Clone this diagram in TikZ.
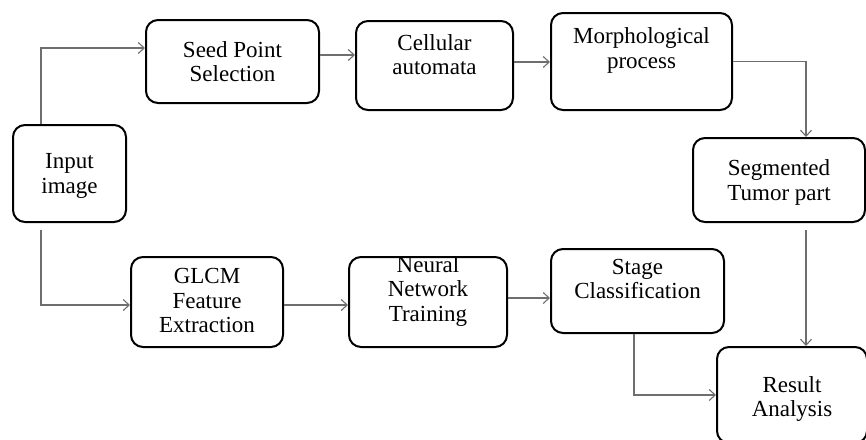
\documentclass[tikz,border=0pt]{standalone}
\usepackage{fontspec}
\setmainfont{Liberation Serif}
\usetikzlibrary{arrows.meta}
\definecolor{connc}{HTML}{6E6E6E}
\begin{document}
\begin{tikzpicture}[x=1pt,y=-1pt,
  box/.style={draw=black, line width=2pt, rounded corners=12pt, inner sep=0pt, fill=white},
  lbl/.style={font=\fontsize{23}{24.5}\selectfont, align=center, inner sep=0pt},
  conn/.style={draw=connc, line width=1.1pt, -{Straight Barb[length=6pt,width=11pt]}}]
\useasboundingbox (0,0) rectangle (866,439);
\fill[white] (0,0) rectangle (866,439);

\node[box, minimum width=173pt, minimum height=83pt,
  label={[lbl]center:{Seed Point\\Selection}}] (seed) at (232.5,61.5) {};
\node[box, minimum width=157pt, minimum height=89pt,
  label={[lbl, yshift=11pt]center:{Cellular\\automata}}] (cell) at (434.5,65.5) {};
\node[box, minimum width=181pt, minimum height=97pt,
  label={[lbl, yshift=11pt]center:{Morphological\\process}}] (morph) at (641.5,61.5) {};
\node[box, minimum width=172pt, minimum height=84pt,
  label={[lbl, yshift=-2.5pt]center:{Segmented\\Tumor part}}] (seg) at (779,180) {};
\node[box, minimum width=113pt, minimum height=97pt,
  label={[lbl, yshift=-2.5pt]center:{Input\\image}}] (inp) at (69.5,173.5) {};
\node[box, minimum width=152pt, minimum height=90pt,
  label={[lbl, yshift=1.5pt]center:{GLCM\\Feature\\Extraction}}] (glcm) at (207,302) {};
\node[box, minimum width=173pt, minimum height=84pt,
  label={[lbl, yshift=12pt]center:{Stage\\Classification}}] (stage) at (637.5,291) {};
\node[box, minimum width=150pt, minimum height=96pt,
  label={[lbl, yshift=-4pt]center:{Result\\Analysis}}] (res) at (792,395) {};
\node[box, minimum width=158pt, minimum height=90pt] (neur) at (428,302) {};
\node[lbl] (neurt) at (428,291) {Neural\\Network\\Training};

% connectors
\draw[conn] ([xshift=29pt]inp.north west) |- ([yshift=13.5pt]seed.west);
\draw[conn] ([yshift=6.5pt]seed.east) -- ([yshift=6.5pt]seed.east -| cell.west);
\draw[conn] ([yshift=3.5pt]cell.east) -- ([yshift=3.5pt]cell.east -| morph.west);
\draw[conn] (morph.east) -| ([xshift=27pt]seg.north);
\draw[conn] ([shift={(29pt,-7pt)}]inp.south west) |- ([yshift=-3pt]glcm.west);
\draw[conn] ([yshift=-3pt]glcm.east) -- ([yshift=-3pt]glcm.east -| neur.west);
\draw[conn] ([yshift=4pt]neur.east) -- ([yshift=4pt]neur.east -| stage.west);
\draw[conn] ([xshift=27pt,yshift=-7pt]seg.south) -- ([xshift=27pt]seg.south |- res.north);
\draw[conn] ([xshift=-3.5pt]stage.south) |- (res.west);
\end{tikzpicture}
\end{document}
